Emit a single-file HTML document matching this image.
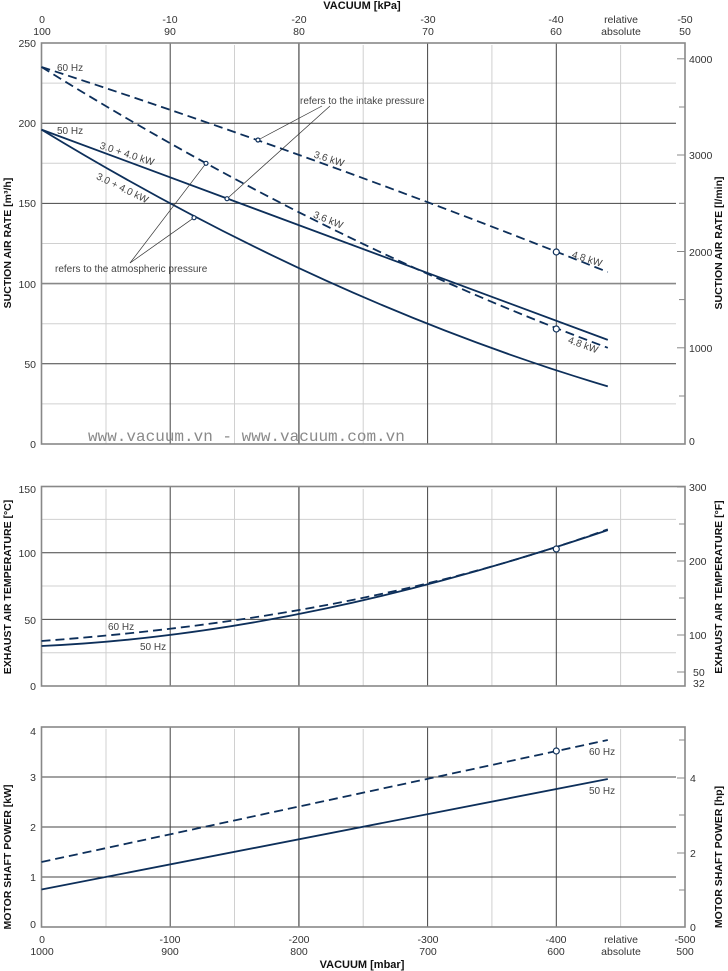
<!DOCTYPE html>
<html><head><meta charset="utf-8"><style>
html,body{margin:0;padding:0;background:#fff;}
svg{display:block;font-family:"Liberation Sans",sans-serif;}
</style></head><body>
<svg width="728" height="971" viewBox="0 0 728 971" xmlns="http://www.w3.org/2000/svg">
<text x="362" y="9" font-size="11" font-weight="bold" text-anchor="middle" fill="#111">VACUUM  [kPa]</text>
<g font-size="10.5" fill="#333" text-anchor="middle">
<text x="42" y="23">0</text><text x="42" y="35">100</text>
<text x="170" y="23">-10</text><text x="170" y="35">90</text>
<text x="299" y="23">-20</text><text x="299" y="35">80</text>
<text x="428" y="23">-30</text><text x="428" y="35">70</text>
<text x="556" y="23">-40</text><text x="556" y="35">60</text>
<text x="621" y="23">relative</text><text x="621" y="35">absolute</text>
<text x="685" y="23">-50</text><text x="685" y="35">50</text>
</g>

<g stroke="#d0d0d0" stroke-width="1">
<line x1="106" y1="45" x2="106" y2="444"/><line x1="234.5" y1="45" x2="234.5" y2="444"/><line x1="363.2" y1="45" x2="363.2" y2="444"/><line x1="491.9" y1="45" x2="491.9" y2="444"/><line x1="620.6" y1="45" x2="620.6" y2="444"/>
<line x1="41.5" y1="83.1" x2="676" y2="83.1"/><line x1="41.5" y1="163.3" x2="676" y2="163.3"/><line x1="41.5" y1="243.5" x2="676" y2="243.5"/><line x1="41.5" y1="323.7" x2="676" y2="323.7"/><line x1="41.5" y1="403.9" x2="676" y2="403.9"/>
</g>
<g stroke="#444" stroke-width="1">
<line x1="170.2" y1="43" x2="170.2" y2="444"/><line x1="298.9" y1="43" x2="298.9" y2="444" stroke="#777" stroke-width="1.6"/><line x1="427.6" y1="43" x2="427.6" y2="444"/><line x1="556.3" y1="43" x2="556.3" y2="444"/>
<line x1="41.5" y1="123.2" x2="676" y2="123.2"/><line x1="41.5" y1="203.4" x2="676" y2="203.4"/><line x1="41.5" y1="283.6" x2="676" y2="283.6" stroke="#888" stroke-width="1.6"/><line x1="41.5" y1="363.8" x2="676" y2="363.8"/>
</g>
<rect x="41.5" y="43" width="643.5" height="401" fill="none" stroke="#888" stroke-width="1.6"/>
<g stroke="#888" stroke-width="1">
<line x1="677" y1="58.8" x2="685" y2="58.8"/><line x1="677" y1="155" x2="685" y2="155"/><line x1="677" y1="251.5" x2="685" y2="251.5"/><line x1="677" y1="347.8" x2="685" y2="347.8"/>
<line x1="679" y1="107" x2="685" y2="107"/><line x1="679" y1="203.3" x2="685" y2="203.3"/><line x1="679" y1="299.6" x2="685" y2="299.6"/><line x1="679" y1="396" x2="685" y2="396"/>
</g>
<g font-size="10.5" fill="#333" text-anchor="end">
<text x="36" y="47">250</text><text x="36" y="127">200</text><text x="36" y="207">150</text><text x="36" y="288">100</text><text x="36" y="368">50</text><text x="36" y="448">0</text>
</g>
<g font-size="10.5" fill="#333">
<text x="689" y="63">4000</text><text x="689" y="159">3000</text><text x="689" y="256">2000</text><text x="689" y="352">1000</text><text x="689" y="445">0</text>
</g>
<text transform="translate(11,243) rotate(-90)" font-size="10.5" font-weight="bold" text-anchor="middle" fill="#111">SUCTION AIR RATE  [m³/h]</text>
<text transform="translate(722,243) rotate(-90)" font-size="10.5" font-weight="bold" text-anchor="middle" fill="#111">SUCTION AIR RATE  [l/min]</text>
<text x="88" y="441" font-family="Liberation Mono,monospace" font-size="16" fill="#8a8a8a">www.vacuum.vn - www.vacuum.com.vn</text>

<g fill="none" stroke="#0d2f5a" stroke-width="1.8">
<path d="M41.5,67 Q324.6,158.8 607.8,272.1" stroke-dasharray="9,5"/>
<path d="M41.5,67 Q324.6,242.9 607.8,347.8" stroke-dasharray="9,5"/>
<path d="M41.5,129.6 L607.8,339.9"/>
<path d="M41.5,129.6 Q324.6,301.9 607.8,386.4"/>
</g>
<g stroke="#333" stroke-width="0.7" fill="none">
<line x1="322" y1="106" x2="258" y2="140"/><line x1="330" y1="106" x2="227" y2="198.7"/>
<line x1="130" y1="263" x2="206" y2="163.3"/><line x1="130" y1="263" x2="194" y2="217.7"/>
</g>
<g fill="#fff" stroke="#0d2f5a" stroke-width="1.2">
<circle cx="258" cy="140" r="2"/><circle cx="206" cy="163.3" r="2"/><circle cx="227" cy="198.7" r="2"/><circle cx="194" cy="217.7" r="2"/>
<circle cx="556.3" cy="252" r="3"/><circle cx="556.3" cy="329" r="3"/>
</g>
<g font-size="10" fill="#444">
<text x="57" y="71">60 Hz</text><text x="57" y="134">50 Hz</text>
<text x="300" y="104">refers to the intake pressure</text>
<text x="55" y="272">refers to the atmospheric pressure</text>
<text transform="translate(126,157) rotate(18)" text-anchor="middle">3.0 + 4.0 kW</text>
<text transform="translate(121,191) rotate(26)" text-anchor="middle">3.0 + 4.0 kW</text>
<text transform="translate(328,162) rotate(18)" text-anchor="middle">3.6 kW</text>
<text transform="translate(327,223) rotate(22)" text-anchor="middle">3.6 kW</text>
<text transform="translate(586,262) rotate(18)" text-anchor="middle">4.8 kW</text>
<text transform="translate(582,348) rotate(20)" text-anchor="middle">4.8 kW</text>
</g>

<g stroke="#d0d0d0" stroke-width="1">
<line x1="106" y1="489" x2="106" y2="686"/><line x1="234.5" y1="489" x2="234.5" y2="686"/><line x1="363.2" y1="489" x2="363.2" y2="686"/><line x1="491.9" y1="489" x2="491.9" y2="686"/><line x1="620.6" y1="489" x2="620.6" y2="686"/>
<line x1="41.5" y1="519.4" x2="676" y2="519.4"/><line x1="41.5" y1="586" x2="676" y2="586"/><line x1="41.5" y1="652.7" x2="676" y2="652.7"/>
</g>
<g stroke="#444" stroke-width="1">
<line x1="170.2" y1="486.5" x2="170.2" y2="686"/><line x1="298.9" y1="486.5" x2="298.9" y2="686" stroke="#777" stroke-width="1.6"/><line x1="427.6" y1="486.5" x2="427.6" y2="686"/><line x1="556.3" y1="486.5" x2="556.3" y2="686"/>
<line x1="41.5" y1="552.7" x2="676" y2="552.7"/><line x1="41.5" y1="619.4" x2="676" y2="619.4"/>
</g>
<rect x="41.5" y="486.5" width="643.5" height="199.5" fill="none" stroke="#888" stroke-width="1.6"/>
<g stroke="#888" stroke-width="1">
<line x1="677" y1="487" x2="685" y2="487"/><line x1="677" y1="561" x2="685" y2="561"/><line x1="677" y1="635" x2="685" y2="635"/><line x1="677" y1="672" x2="685" y2="672"/>
<line x1="679" y1="524" x2="685" y2="524"/><line x1="679" y1="598" x2="685" y2="598"/>
</g>
<g font-size="10.5" fill="#333" text-anchor="end">
<text x="36" y="493">150</text><text x="36" y="557">100</text><text x="36" y="624">50</text><text x="36" y="690">0</text>
</g>
<g font-size="10.5" fill="#333">
<text x="689" y="491">300</text><text x="689" y="565">200</text><text x="689" y="639">100</text><text x="693" y="676">50</text><text x="693" y="687">32</text>
</g>
<text transform="translate(11,587) rotate(-90)" font-size="10.5" font-weight="bold" text-anchor="middle" fill="#111">EXHAUST AIR TEMPERATURE  [°C]</text>
<text transform="translate(722,587) rotate(-90)" font-size="10.5" font-weight="bold" text-anchor="middle" fill="#111">EXHAUST AIR TEMPERATURE  [°F]</text>
<g fill="none" stroke="#0d2f5a" stroke-width="1.8">
<path d="M41.5,646 C230.3,637.5 419,593.8 607.8,530.1"/>
<path d="M41.5,641 C230.3,626.9 419,597.4 607.8,529.3" stroke-dasharray="9,5"/>
</g>
<circle cx="556.3" cy="549" r="3" fill="#fff" stroke="#0d2f5a" stroke-width="1.2"/>
<g font-size="10" fill="#444"><text x="108" y="630">60 Hz</text><text x="140" y="650">50 Hz</text></g>

<g stroke="#d0d0d0" stroke-width="1">
<line x1="106" y1="729" x2="106" y2="927"/><line x1="234.5" y1="729" x2="234.5" y2="927"/><line x1="363.2" y1="729" x2="363.2" y2="927"/><line x1="491.9" y1="729" x2="491.9" y2="927"/><line x1="620.6" y1="729" x2="620.6" y2="927"/>
</g>
<g stroke="#444" stroke-width="1">
<line x1="170.2" y1="727" x2="170.2" y2="927"/><line x1="298.9" y1="727" x2="298.9" y2="927" stroke="#777" stroke-width="1.6"/><line x1="427.6" y1="727" x2="427.6" y2="927"/><line x1="556.3" y1="727" x2="556.3" y2="927"/>
<line x1="41.5" y1="777" x2="676" y2="777"/><line x1="41.5" y1="827" x2="676" y2="827"/><line x1="41.5" y1="877" x2="676" y2="877"/>
</g>
<rect x="41.5" y="727" width="643.5" height="200" fill="none" stroke="#888" stroke-width="1.6"/>
<g stroke="#888" stroke-width="1">
<line x1="677" y1="778" x2="685" y2="778"/><line x1="677" y1="853" x2="685" y2="853"/>
<line x1="679" y1="740" x2="685" y2="740"/><line x1="679" y1="815" x2="685" y2="815"/><line x1="679" y1="890" x2="685" y2="890"/>
</g>
<g font-size="10.5" fill="#333" text-anchor="end">
<text x="36" y="735">4</text><text x="36" y="781">3</text><text x="36" y="831">2</text><text x="36" y="881">1</text><text x="36" y="928">0</text>
</g>
<g font-size="10.5" fill="#333">
<text x="690" y="782">4</text><text x="690" y="857">2</text><text x="690" y="931">0</text>
</g>
<text transform="translate(11,857) rotate(-90)" font-size="10.5" font-weight="bold" text-anchor="middle" fill="#111">MOTOR SHAFT POWER  [kW]</text>
<text transform="translate(722,857) rotate(-90)" font-size="10.5" font-weight="bold" text-anchor="middle" fill="#111">MOTOR SHAFT POWER  [hp]</text>
<g fill="none" stroke="#0d2f5a" stroke-width="1.8">
<path d="M41.5,862 L607.8,740" stroke-dasharray="9,5"/>
<path d="M41.5,889.5 L607.8,779"/>
</g>
<circle cx="556.3" cy="751" r="3" fill="#fff" stroke="#0d2f5a" stroke-width="1.2"/>
<g font-size="10" fill="#444"><text x="589" y="755">60 Hz</text><text x="589" y="794">50 Hz</text></g>

<g font-size="10.5" fill="#333" text-anchor="middle">
<text x="42" y="943">0</text><text x="42" y="955">1000</text>
<text x="170" y="943">-100</text><text x="170" y="955">900</text>
<text x="299" y="943">-200</text><text x="299" y="955">800</text>
<text x="428" y="943">-300</text><text x="428" y="955">700</text>
<text x="556" y="943">-400</text><text x="556" y="955">600</text>
<text x="621" y="943">relative</text><text x="621" y="955">absolute</text>
<text x="685" y="943">-500</text><text x="685" y="955">500</text>
</g>
<text x="362" y="968" font-size="11" font-weight="bold" text-anchor="middle" fill="#111">VACUUM  [mbar]</text>
</svg>
</body></html>
